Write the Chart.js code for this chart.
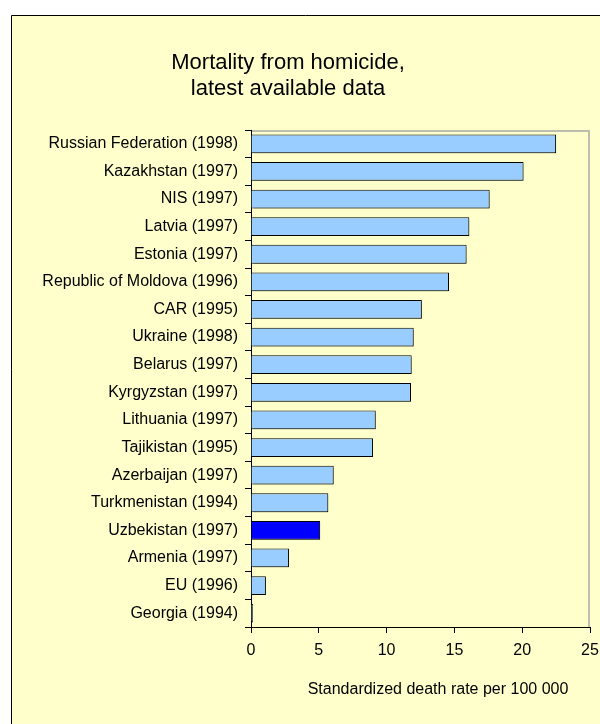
<!DOCTYPE html>
<html>
<head>
<meta charset="utf-8">
<script src="https://cdn.jsdelivr.net/npm/chart.js@4/dist/chart.umd.min.js"></script>
<style>
    html, body { margin: 0; padding: 0; background: #fff; }
    #wrap { position: relative; width: 600px; height: 724px; }
</style>
</head>
<body>
<div id="wrap"><canvas id="homicide-chart" width="600" height="724"></canvas></div>
<script>
// 数据
const titleLines = ['Mortality from homicide,', 'latest available data'];
const axisTitle = 'Standardized death rate per 100 000';
const countries = [
    'Russian Federation (1998)', 'Kazakhstan (1997)', 'NIS (1997)', 'Latvia (1997)',
    'Estonia (1997)', 'Republic of Moldova (1996)', 'CAR (1995)', 'Ukraine (1998)',
    'Belarus (1997)', 'Kyrgyzstan (1997)', 'Lithuania (1997)', 'Tajikistan (1995)',
    'Azerbaijan (1997)', 'Turkmenistan (1994)', 'Uzbekistan (1997)', 'Armenia (1997)',
    'EU (1996)', 'Georgia (1994)'
];
const rates = [22.5, 20.1, 17.6, 16.1, 15.9, 14.6, 12.6, 12.0, 11.85, 11.8, 9.2, 9.0, 6.1, 5.7, 5.1, 2.8, 1.1, 0.15];
const highlighted = 'Uzbekistan (1997)';
const xTicks = [0, 5, 10, 15, 20, 25];

const FONT = 'Arial, "Liberation Sans", sans-serif';

// 背景和边框
const framePlugin = {
    id: 'frame',
    beforeDraw(chart) {
        const c = chart.ctx;
        c.save();
        c.fillStyle = '#fff';
        c.fillRect(0, 0, chart.width, chart.height);
        c.fillStyle = '#FFFFCC';
        c.fillRect(11, 15, chart.width - 11, chart.height - 15);
        c.strokeStyle = '#000';
        c.lineWidth = 1;
        c.beginPath();
        c.moveTo(11.5, chart.height);
        c.lineTo(11.5, 15.5);
        c.lineTo(chart.width, 15.5);
        c.stroke();
        // 绘图区上边和右边
        const a = chart.chartArea;
        c.strokeStyle = '#BDBDB0';
        c.lineWidth = 2;
        c.beginPath();
        c.moveTo(a.left, a.top + 1);
        c.lineTo(a.right - 1, a.top + 1);
        c.lineTo(a.right - 1, a.bottom);
        c.stroke();
        c.restore();
    },
    beforeDatasetsDraw(chart) {
        const c = chart.ctx;
        c.save();
        c.shadowColor = 'rgba(0, 0, 0, 0.25)';
        c.shadowOffsetX = 2;
        c.shadowOffsetY = 2;
        c.shadowBlur = 0;
    },
    afterDatasetsDraw(chart) {
        chart.ctx.restore();
    },
    afterDraw(chart) {
        const c = chart.ctx;
        c.save();
        c.fillStyle = '#000';
        c.textAlign = 'center';
        c.textBaseline = 'alphabetic';
        c.font = '22px ' + FONT;
        c.fillText(titleLines[0], 288, 69);
        c.fillText(titleLines[1], 288, 95);
        c.font = '16px ' + FONT;
        c.textBaseline = 'middle';
        c.fillText(axisTitle, 438, 690);
        c.restore();
    }
};

new Chart(document.getElementById('homicide-chart'), {
    type: 'bar',
    data: {
        labels: countries,
        datasets: [{
            data: rates,
            backgroundColor: countries.map(c => c === highlighted ? '#0000FF' : '#99CCFF'),
            borderColor: '#000',
            borderWidth: 1,
            barPercentage: 0.68,
            categoryPercentage: 1
        }]
    },
    options: {
        indexAxis: 'y',
        responsive: false,
        animation: false,
        layout: { padding: { top: 130, right: 0, left: 0, bottom: 0 } },
        plugins: {
            legend: { display: false },
            tooltip: { enabled: false }
        },
        scales: {
            x: {
                min: 0,
                max: 25,
                afterBuildTicks(scale) {
                    scale.ticks = xTicks.map(v => ({ value: v }));
                },
                afterFit(scale) {
                    scale.height = 97;
                    scale.paddingLeft = 0;
                    scale.paddingRight = 10;
                },
                grid: { drawOnChartArea: false, tickLength: 6, tickColor: '#000' },
                border: { color: '#000', width: 1 },
                ticks: { color: '#000', font: { family: FONT, size: 16 }, padding: 8, maxRotation: 0 }
            },
            y: {
                afterFit(scale) { scale.width = 251; },
                grid: { drawOnChartArea: false, tickLength: 6, tickColor: '#000', offset: true },
                border: { color: '#000', width: 1 },
                ticks: { color: '#000', font: { family: FONT, size: 16 }, padding: 7, autoSkip: false }
            }
        }
    },
    plugins: [framePlugin]
});
</script>
</body>
</html>
